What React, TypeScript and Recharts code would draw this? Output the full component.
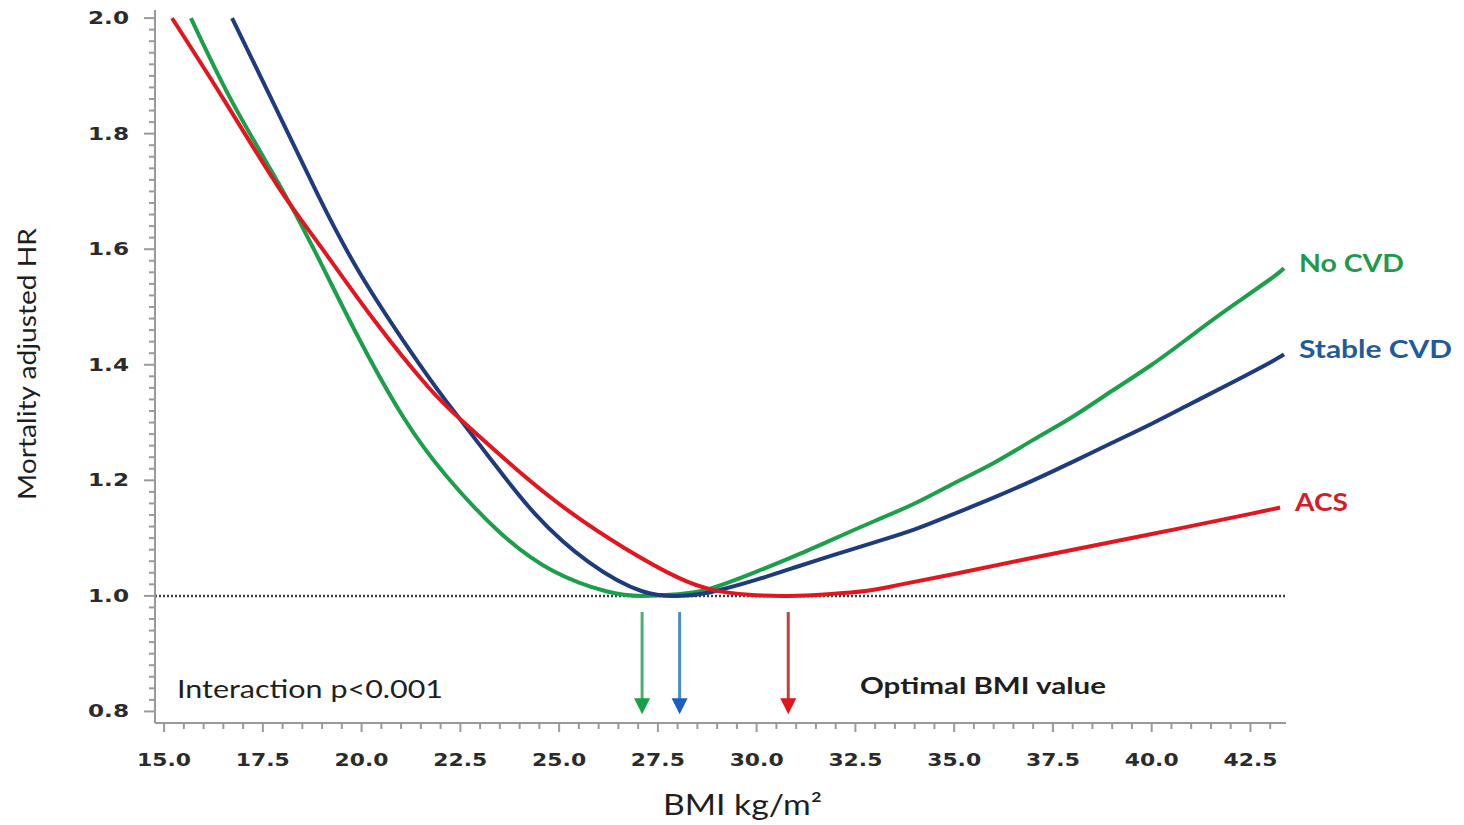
import React from "react";
import { LineChart, Line, XAxis, YAxis, ReferenceLine } from "recharts";

// BMI (kg/m2) vs adjusted mortality HR, one curve per cohort
const noCvdBmi = [15.68, 16.7, 17.89, 18.8, 19.86, 21.05, 22.14, 23.48, 24.85, 26.19, 27.1, 28.0, 28.8, 30, 31, 32, 33, 34, 35, 36, 37, 38, 39, 40, 41, 42, 43, 43.35];
const noCvdHr = [2.0, 1.858, 1.715, 1.599, 1.455, 1.31, 1.208, 1.111, 1.043, 1.008, 1.0, 1.003, 1.012, 1.042, 1.07, 1.1, 1.13, 1.16, 1.195, 1.23, 1.27, 1.31, 1.355, 1.4, 1.45, 1.5, 1.548, 1.567];

const stableCvdBmi = [16.72, 17.86, 18.9, 19.96, 21.23, 22.14, 23.23, 24.39, 25.76, 27.1, 28.0, 28.8, 30, 31, 32, 33, 34, 35, 36, 37, 38, 39, 40, 41, 42, 43, 43.35];
const stableCvdHr = [2.0, 1.84, 1.693, 1.558, 1.424, 1.337, 1.24, 1.142, 1.058, 1.008, 1.0, 1.006, 1.028, 1.05, 1.072, 1.093, 1.115, 1.142, 1.17, 1.2, 1.232, 1.265, 1.298, 1.333, 1.368, 1.404, 1.418];

const acsBmi = [15.2, 16.52, 17.89, 18.97, 20.32, 21.68, 22.59, 23.94, 25.3, 26.65, 28.0, 28.92, 29.8, 30.8, 31.8, 32.8, 33.6, 35, 37.5, 40, 42.5, 43.25];
const acsHr = [2.0, 1.858, 1.708, 1.604, 1.477, 1.362, 1.3, 1.218, 1.144, 1.083, 1.032, 1.01, 1.002, 1.0, 1.003, 1.009, 1.019, 1.038, 1.073, 1.107, 1.142, 1.153];

// optimal BMI per cohort (arrows)
const optimalBmi = [27.1, 28.05, 30.8];

const xLabels = [15, 17.5, 20, 22.5, 25, 27.5, 30, 32.5, 35, 37.5, 40, 42.5];
const yLabels = [0.8, 1.0, 1.2, 1.4, 1.6, 1.8, 2.0];

const xTicks = Array.from({ length: 57 }, (_, i) => 15 + i * 0.5);
const yTicks = Array.from({ length: 61 }, (_, i) => Math.round((0.8 + i * 0.02) * 100) / 100);

const zip = (xs: number[], ys: number[]) => xs.map((bmi, i) => ({ bmi, hr: ys[i] }));

const series = [
  { name: "No CVD", data: zip(noCvdBmi, noCvdHr), stroke: "#1c9f4a", text: "#1f9a4c", arrow: "#4bb06e", head: "#16a046", labelW: 105 },
  { name: "Stable CVD", data: zip(stableCvdBmi, stableCvdHr), stroke: "#1e3b7c", text: "#1f5b9c", arrow: "#4c8cc6", head: "#1a5fbe", labelW: 153 },
  { name: "ACS", data: zip(acsBmi, acsHr), stroke: "#e2161e", text: "#d21e26", arrow: "#c2413f", head: "#e0141a", labelW: 53 },
];

const AXIS = "#9a9a9a";
const TICK_FONT = "'DejaVu Sans', sans-serif";
const TEXT_FONT = "Lato, 'Open Sans', sans-serif";

function XTick({ x, y, payload }: any) {
  const v = payload.value;
  const major = xLabels.some((l) => Math.abs(l - v) < 1e-6);
  return (
    <g>
      <line x1={x} x2={x} y1={y} y2={y + (major ? 9 : 6)} stroke={AXIS} strokeWidth={2} />
      {major && (
        <text x={x} y={y + 43} textAnchor="middle" fontFamily={TICK_FONT} fontWeight="bold" fontSize={17} fill="#2b2b2b" textLength={54} lengthAdjust="spacingAndGlyphs">
          {v.toFixed(1)}
        </text>
      )}
    </g>
  );
}

function YTick({ x, y, payload }: any) {
  const v = payload.value;
  const major = yLabels.some((l) => Math.abs(l - v) < 1e-6);
  return (
    <g>
      <line x1={x} x2={x - (major ? 11 : 6)} y1={y} y2={y} stroke={AXIS} strokeWidth={2} />
      {major && (
        <text x={x - 26} y={y + 6} textAnchor="end" fontFamily={TICK_FONT} fontWeight="bold" fontSize={17} fill="#2b2b2b" textLength={41} lengthAdjust="spacingAndGlyphs">
          {v.toFixed(1)}
        </text>
      )}
    </g>
  );
}

function Arrow({ x1, y1, x2, y2, shaft, head }: any) {
  const tip = Math.max(y1, y2);
  const top = Math.min(y1, y2);
  return (
    <g>
      <line x1={x1} x2={x2} y1={top} y2={tip - 12} stroke={shaft} strokeWidth={3} />
      <polygon points={`${x2 - 8},${tip - 16} ${x2 + 8},${tip - 16} ${x2},${tip}`} fill={head} />
    </g>
  );
}

function endLabel(name: string, color: string, w: number, last: number) {
  return (p: any) =>
    p.index === last ? (
      <text x={p.x + 15} y={p.y + 4} fontFamily={TEXT_FONT} fontWeight="bold" fontSize={25} fill={color} textLength={w} lengthAdjust="spacingAndGlyphs">
        {name}
      </text>
    ) : (
      <g />
    );
}

export default function App() {
  return (
    <div style={{ position: "absolute", left: 0, top: 0, width: 1464, height: 825, background: "#fff" }}>
      <LineChart width={1464} height={825} margin={{ top: 10, right: 178, bottom: 62, left: 95 }}>
        <XAxis
          type="number"
          dataKey="bmi"
          domain={[14.77, 43.4]}
          ticks={xTicks}
          interval={0}
          height={40}
          tickSize={0}
          tickMargin={0}
          tickLine={false}
          axisLine={{ stroke: AXIS, strokeWidth: 2 }}
          tick={<XTick />}
        />
        <YAxis
          type="number"
          domain={[0.78, 2.014]}
          ticks={yTicks}
          interval={0}
          width={60}
          tickSize={0}
          tickMargin={0}
          tickLine={false}
          axisLine={{ stroke: AXIS, strokeWidth: 2 }}
          tick={<YTick />}
        />
        <ReferenceLine y={1} stroke="#3c3c3c" strokeWidth={2.5} strokeDasharray="2 2" />
        {series.map((s) => (
          <Line
            key={s.name}
            data={s.data}
            dataKey="hr"
            type="natural"
            stroke={s.stroke}
            strokeWidth={4}
            dot={false}
            isAnimationActive={false}
            label={endLabel(s.name, s.text, s.labelW, s.data.length - 1)}
          />
        ))}
        {series.map((s, i) => (
          <ReferenceLine
            key={"arrow-" + s.name}
            segment={[
              { x: optimalBmi[i], y: 0.972 },
              { x: optimalBmi[i], y: 0.795 },
            ]}
            shape={(p: any) => <Arrow {...p} shaft={s.arrow} head={s.head} />}
          />
        ))}
      </LineChart>
      <svg width={1464} height={825} style={{ position: "absolute", left: 0, top: 0, pointerEvents: "none" }}>
        <text x={177} y={698} fontFamily={TEXT_FONT} fontSize={25} fill="#1e1e1e" textLength={266} lengthAdjust="spacingAndGlyphs">
          Interaction p&lt;0.001
        </text>
        <text x={860} y={694} fontFamily={TEXT_FONT} fontWeight="bold" fontSize={23} fill="#1e1e1e" textLength={246} lengthAdjust="spacingAndGlyphs">
          Optimal BMI value
        </text>
        <text x={663} y={815} fontFamily={TEXT_FONT} fontSize={28} fill="#1e1e1e" textLength={159} lengthAdjust="spacingAndGlyphs">
          BMI kg/m²
        </text>
        <text transform="translate(36,364) rotate(-90)" textAnchor="middle" fontFamily={TEXT_FONT} fontSize={25} fill="#1e1e1e" textLength={272} lengthAdjust="spacingAndGlyphs">
          Mortality adjusted HR
        </text>
      </svg>
    </div>
  );
}
